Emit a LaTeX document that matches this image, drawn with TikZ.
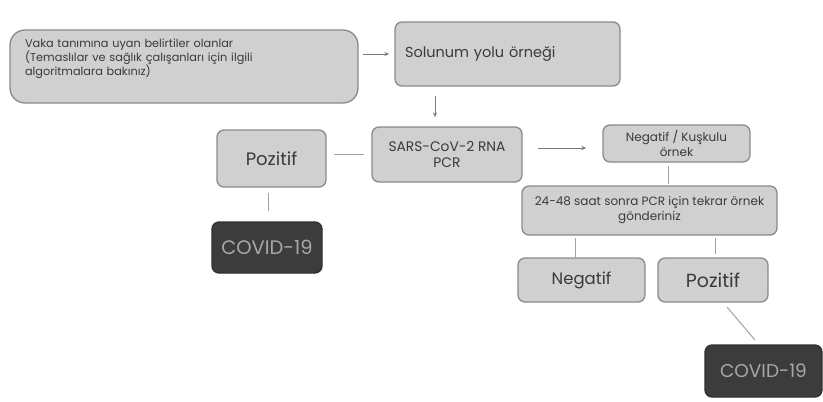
\documentclass[tikz,border=0pt]{standalone}
\usepackage{fontspec}
\setmainfont{Poppins}
\usetikzlibrary{arrows.meta}
\definecolor{boxfill}{HTML}{D0D0D0}
\definecolor{boxline}{HTML}{8A8A8A}
\definecolor{txt}{HTML}{3A3A3A}
\definecolor{darkfill}{HTML}{3C3C3C}
\definecolor{darktxt}{HTML}{A8A8A8}
\definecolor{conn}{HTML}{7A7A7A}
\tikzset{
  box/.style={draw=boxline, line width=1.3pt, fill=boxfill, rounded corners=7pt, text=txt, inner sep=1pt, align=center},
  darkbox/.style={draw=darkfill!80!black, line width=1.3pt, fill=darkfill, rounded corners=7pt, text=darktxt, inner sep=1pt, align=center},
  arr/.style={draw=conn, line width=1pt, -{Stealth[length=5pt,width=4pt]}},
  ln/.style={draw=conn!70, line width=1pt},
}
\begin{document}
\begin{tikzpicture}[x=1pt,y=-1pt]
\useasboundingbox (0,0) rectangle (823,402);
\node[box, rounded corners=15pt, minimum width=348pt, minimum height=73pt, inner xsep=15pt, text width=318pt, align=left, font=\fontsize{11.3}{14}\selectfont] (b1) at (184,66.5)
  {Vaka tanımına uyan belirtiler olanlar\\(Temaslılar ve sağlık çalışanları için ilgili\\algoritmalara bakınız)\\[4pt]\mbox{}};
\node[box, minimum width=225pt, minimum height=64pt, inner xsep=10pt, text width=205pt, align=left, font=\fontsize{14.5}{17}\selectfont] (b2) at (507.5,54)
  {Solunum yolu örneği};
\node[box, minimum width=150pt, minimum height=55pt, font=\fontsize{13.8}{16}\selectfont] (sars) at (447,154.5)
  {SARS-CoV-2 RNA\\PCR};
\node[box, minimum width=109pt, minimum height=57pt, font=\fontsize{18}{20}\selectfont] (poz1) at (271.5,158.5)
  {Pozitif};
\node[darkbox, minimum width=110pt, minimum height=51pt, font=\fontsize{19.5}{21}\selectfont] (cov1) at (267,247.5)
  {COVID-19};
\node[box, minimum width=147pt, minimum height=37pt, font=\fontsize{12}{15}\selectfont] (neg) at (676.5,143.5)
  {Negatif / Kuşkulu\\örnek};
\node[box, minimum width=255pt, minimum height=49pt, font=\fontsize{12}{15}\selectfont] (tek) at (649.5,210.5)
  {24-48 saat sonra PCR için tekrar örnek\\gönderiniz};
\node[box, minimum width=127pt, minimum height=44pt, font=\fontsize{16.5}{18}\selectfont] (neg2) at (581.5,280)
  {Negatif};
\node[box, minimum width=110pt, minimum height=44pt, font=\fontsize{19}{20}\selectfont] (poz2) at (713,280)
  {Pozitif};
\node[darkbox, minimum width=117pt, minimum height=52pt, font=\fontsize{18.5}{20}\selectfont] (cov2) at (763.5,371)
  {COVID-19};
% connectors
\draw[arr, shorten <=4pt, shorten >=5pt] (b1.east |- b2.west) -- (b2.west);
\draw[arr, shorten <=9pt, shorten >=9pt] (435,0 |- b2.south) -- (435,0 |- sars.north);
\draw[arr, shorten <=15pt, shorten >=16pt] (sars.east |- 0,148) -- (neg.west |- 0,148);
\draw[ln, shorten <=7pt, shorten >=7pt] (sars.west) -- (poz1.east |- sars.west);
\draw[ln, shorten <=5pt, shorten >=10pt] (268,0 |- poz1.south) -- (268,0 |- cov1.north);
\draw[ln, shorten <=3pt, shorten >=1pt] (668,0 |- neg.south) -- (668,0 |- tek.north);
\draw[ln, shorten <=2pt] (575,0 |- tek.south) -- (575,0 |- neg2.north);
\draw[ln, shorten <=2pt, shorten >=3pt] (715,0 |- tek.south) -- (715,0 |- poz2.north);
\coordinate (d1) at (727,307);
\coordinate (d2) at (755,340);
\draw[ln] (d1) -- (d2);
\end{tikzpicture}
\end{document}
